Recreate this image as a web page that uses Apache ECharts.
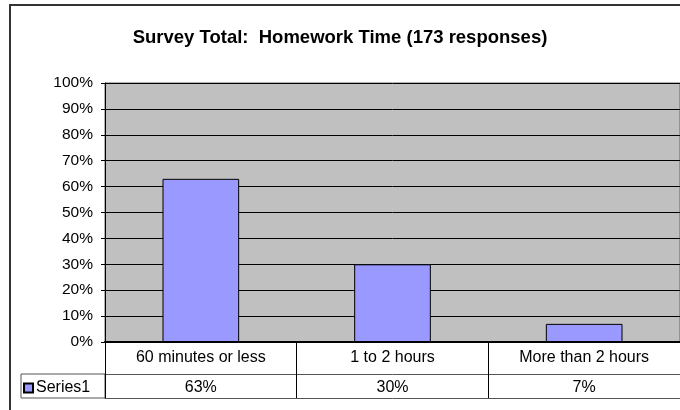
<!DOCTYPE html>
<html>
<head>
<meta charset="utf-8">
<script src="https://cdn.jsdelivr.net/npm/echarts@6/dist/echarts.min.js"></script>
<style>
  html, body { margin: 0; padding: 0; background: #fff; }
  #chart { width: 680px; height: 410px; }
</style>
</head>
<body>
<div id="chart"></div>
<script>
// 作业时间调查
var categories = ['60 minutes or less', '1 to 2 hours', 'More than 2 hours'];
var values = [63, 30, 7];
var valueLabels = values.map(function (v) { return v + '%'; });
var seriesName = 'Series1';

var font = "'Liberation Sans', Arial, sans-serif";
var chart = echarts.init(document.getElementById('chart'));

var option = {
	backgroundColor: '#fff',
	animation: false,
	title: {
		text: 'Survey Total:  Homework Time (173 responses)',
		left: 'center',
		top: 23,
		textStyle: { fontFamily: font, fontSize: 18.5, fontWeight: 'bold', color: '#000' }
	},
	legend: {
		data: [seriesName],
		left: 23,
		top: 380,
		padding: 0,
		icon: 'rect',
		itemWidth: 9,
		itemHeight: 9,
		itemGap: 4,
		textStyle: { fontFamily: font, fontSize: 16, color: '#000', padding: [0, 0, 0, -2] }
	},
	grid: {
		left: 105,
		right: 0,
		top: 83,
		bottom: 68,
		show: true,
		backgroundColor: '#c0c0c0',
		borderColor: '#666',
		borderWidth: 1
	},
	xAxis: [{
		type: 'category',
		data: categories,
		axisLine: { lineStyle: { color: '#000', width: 2 } },
		axisTick: { show: true, length: 56, alignWithLabel: false, lineStyle: { color: '#000' } },
		axisLabel: { margin: 8, color: '#000', fontFamily: font, fontSize: 16 },
		splitLine: { show: false }
	}, {
		type: 'category',
		data: valueLabels,
		position: 'bottom',
		offset: 32,
		axisLine: { lineStyle: { color: '#555', width: 1 } },
		axisTick: { show: false },
		axisLabel: { margin: 6, color: '#000', fontFamily: font, fontSize: 16 }
	}, {
		type: 'category',
		data: categories,
		position: 'bottom',
		offset: 56,
		axisLine: { lineStyle: { color: '#555', width: 1 } },
		axisTick: { show: false },
		axisLabel: { show: false }
	}],
	yAxis: {
		type: 'value',
		min: 0,
		max: 100,
		interval: 10,
		axisLine: { show: true, lineStyle: { color: '#000' } },
		axisTick: { show: true, length: 4, lineStyle: { color: '#000' } },
		axisLabel: { formatter: '{value}%', margin: 12, color: '#000', fontFamily: font, fontSize: 15.5 },
		splitLine: { show: true, lineStyle: { color: '#000', width: 1 } }
	},
	graphic: [{
		type: 'rect',
		shape: { x: 21, y: 374, width: 84, height: 24 },
		style: { fill: 'none', stroke: '#555', lineWidth: 1 }
	}, {
		type: 'rect',
		shape: { x: 10, y: 5, width: 700, height: 430 },
		style: { fill: 'none', stroke: '#333', lineWidth: 2 }
	}],
	series: [{
		name: seriesName,
		type: 'bar',
		xAxisIndex: 0,
		data: values,
		barCategoryGap: '60%',
		itemStyle: { color: '#9999ff', borderColor: '#000', borderWidth: 1 }
	}]
};
chart.setOption(option);
</script>
</body>
</html>
